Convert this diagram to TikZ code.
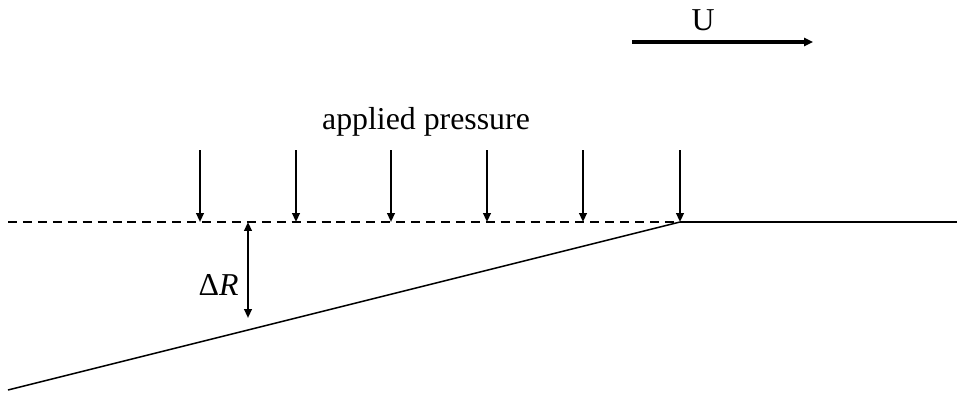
\documentclass[tikz,border=0pt]{standalone}
\usepackage{fontspec}
\setmainfont{Liberation Serif}
\usetikzlibrary{arrows.meta, calc, positioning}

\begin{document}
\begin{tikzpicture}[
    x=0.016cm, y=-0.016cm,
    font=\fontsize{14.5pt}{17pt}\selectfont,
    flowarrow/.style={-{Triangle[length=4pt,width=3.6pt]}, line width=1.4pt, black},
    pressarrow/.style={-{Triangle[length=4pt,width=3.4pt]}, line width=0.9pt, black},
    gaparrow/.style={{Triangle[length=4pt,width=3.4pt]}-{Triangle[length=4pt,width=3.4pt]}, line width=0.9pt, black},
    refline/.style={line width=0.9pt, dash pattern=on 4.1pt off 2.7pt},
    wall/.style={line width=0.9pt},
    slope/.style={line width=0.7pt}
]
\useasboundingbox (0,0) rectangle (958,396);
%
\coordinate (uleft) at (632,42);
\coordinate (uright) at (813,42);
\draw[flowarrow] (uleft) -- (uright);
\node[anchor=base] (ulabel) at (703,31) {U};

%
\coordinate (refstart) at (8,222);
\coordinate (corner) at (680,222);
\coordinate (wallend) at (957,222);
\coordinate (slopestart) at (8,390);
\draw[refline] (refstart) -- (corner);
\draw[wall] (corner) -- (wallend);
\draw[slope] (slopestart) -- (corner);

%
\node[anchor=base] (plabel) at (426,129) {applied pressure};
\foreach \px [count=\i] in {200,296,391,487,583,680} {
    \coordinate (ptop\i) at (\px,150);
    \coordinate (pbot\i) at (\px,222);
    \draw[pressarrow] (ptop\i) -- (pbot\i);
}

%
\coordinate (gaptop) at (248,222);
\coordinate (gapbot) at (248,318);
\draw[gaparrow] (gaptop) -- (gapbot);
\node[anchor=base east, inner sep=0pt] (dlabel) at (239,295) {Δ\textit{R}};
\end{tikzpicture}
\end{document}
